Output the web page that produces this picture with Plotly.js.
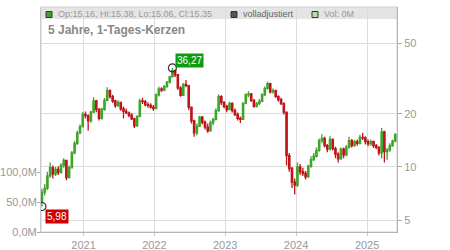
<!DOCTYPE html>
<html>
<head>
<meta charset="utf-8">
<script src="https://cdn.plot.ly/plotly-3.0.1.min.js"></script>
<style>html,body{margin:0;padding:0;background:#fff;}#chart{width:450px;height:250px;}</style>
</head>
<body>
<div id="chart"></div>
<script>
const dates = ['2020-06-01','2020-06-15','2020-06-29','2020-07-13','2020-07-27','2020-08-10','2020-08-24','2020-09-07','2020-09-21','2020-10-05',
'2020-10-19','2020-11-02','2020-11-16','2020-11-30','2020-12-14','2020-12-28','2021-01-11','2021-01-25','2021-02-08','2021-02-22',
'2021-03-08','2021-03-22','2021-04-05','2021-04-19','2021-05-03','2021-05-17','2021-05-31','2021-06-14','2021-06-28','2021-07-12',
'2021-07-26','2021-08-09','2021-08-23','2021-09-06','2021-09-20','2021-10-04','2021-10-18','2021-11-01','2021-11-15','2021-11-29',
'2021-12-13','2021-12-27','2022-01-10','2022-01-24','2022-02-07','2022-02-21','2022-03-07','2022-03-21','2022-04-04','2022-04-18',
'2022-05-02','2022-05-16','2022-05-30','2022-06-13','2022-06-27','2022-07-11','2022-07-25','2022-08-08','2022-08-22','2022-09-05',
'2022-09-19','2022-10-03','2022-10-17','2022-10-31','2022-11-14','2022-11-28','2022-12-12','2022-12-26','2023-01-09','2023-01-23',
'2023-02-06','2023-02-20','2023-03-06','2023-03-20','2023-04-03','2023-04-17','2023-05-01','2023-05-15','2023-05-29','2023-06-12',
'2023-06-26','2023-07-10','2023-07-24','2023-08-07','2023-08-21','2023-09-04','2023-09-18','2023-10-02','2023-10-16','2023-10-30',
'2023-11-13','2023-11-27','2023-12-11','2023-12-25','2024-01-08','2024-01-22','2024-02-05','2024-02-19','2024-03-04','2024-03-18',
'2024-04-01','2024-04-15','2024-04-29','2024-05-13','2024-05-27','2024-06-10','2024-06-24','2024-07-08','2024-07-22','2024-08-05',
'2024-08-19','2024-09-02','2024-09-16','2024-09-30','2024-10-14','2024-10-28','2024-11-11','2024-11-25','2024-12-09','2024-12-23',
'2025-01-06','2025-01-20','2025-02-03','2025-02-17','2025-03-03','2025-03-17','2025-03-31','2025-04-14','2025-04-28','2025-05-12',
'2025-05-26'];
const openP = [6.3,7.2,7.6,8.9,9.9,9.1,9.7,9.3,10.2,10.9, 8.7,9.9,12.0,13.6,15.6,16.9,19.8,19.5,18.2,20.4,
23.6,21.2,18.8,21.2,23.8,27.0,25.0,23.6,22.2,23.2, 21.3,20.6,20.2,19.6,18.7,17.1,19.3,23.6,23.4,22.5,
22.3,21.8,21.4,25.6,27.6,27.2,28.5,30.2,32.3,35.0, 33.2,28.0,25.4,29.3,28.8,21.8,18.2,15.6,17.0,19.1,
17.9,16.8,16.0,17.8,18.6,20.8,25.0,23.1,22.0,21.1, 22.9,20.8,19.8,18.8,18.6,22.9,25.6,25.9,23.8,22.0,
22.8,23.5,25.6,27.8,29.6,26.6,27.0,25.0,24.0,22.8, 20.4,11.6,9.8,8.2,7.9,10.0,9.4,9.2,8.8,10.1,
11.0,11.5,12.4,14.1,14.5,13.2,12.6,14.3,12.7,11.8, 11.1,12.6,11.7,12.9,14.1,13.2,13.9,13.6,14.7,14.6,
13.9,13.5,13.9,13.2,12.9,12.0,15.8,12.2,12.5,13.2, 14.0];
const highP = [7.5,8.0,9.4,10.6,10.2,10.0,10.1,10.5,11.2,10.9, 10.2,12.3,14.0,16.0,17.4,20.5,20.6,19.8,20.8,24.8,
24.0,21.5,21.6,24.5,28.2,27.5,25.6,24.0,23.8,23.4, 22.0,21.4,20.6,20.1,19.0,19.6,24.3,24.6,23.9,23.2,
22.9,22.4,26.0,28.4,28.2,29.0,30.6,32.8,36.27,35.6, 33.5,28.6,29.8,31.0,29.0,22.0,18.5,17.6,19.5,19.4,
18.3,17.6,18.3,19.0,21.5,25.8,25.4,23.6,22.5,23.4, 23.2,21.4,20.3,19.3,23.2,26.0,26.8,26.2,24.2,23.3,
24.2,26.1,28.5,30.3,29.9,27.8,27.3,25.4,24.6,23.2, 20.6,12.0,10.0,8.6,10.6,10.4,9.9,9.5,10.3,11.5,
12.0,12.9,14.5,15.3,14.8,13.5,14.9,14.5,13.0,12.1, 12.9,12.9,13.3,14.8,14.4,14.2,14.3,15.2,15.6,14.9,
14.3,14.3,14.1,13.5,13.1,16.6,16.0,12.8,13.6,14.3, 15.38];
const lowP = [5.98,6.9,7.4,8.7,8.6,8.9,9.0,9.2,9.9,8.4, 8.6,9.8,11.8,13.3,15.3,16.7,18.8,16.0,17.8,20.2,
20.4,18.3,18.5,20.8,23.5,24.4,23.0,21.6,21.8,20.8, 18.8,19.9,19.1,18.4,16.6,16.9,19.1,22.7,22.0,21.6,
21.4,20.8,21.2,25.0,26.5,26.8,28.0,29.6,32.0,32.2, 27.2,24.9,25.2,28.2,21.0,17.6,14.8,15.1,16.8,17.4,
16.3,15.6,15.8,17.2,18.3,20.5,22.4,21.4,20.4,20.9, 20.3,19.4,18.3,17.7,18.4,22.6,24.8,23.3,21.6,21.7,
22.4,23.2,25.2,27.4,26.0,26.0,24.6,23.4,22.4,19.8, 10.2,9.4,7.6,7.0,7.7,9.0,8.9,8.5,8.7,9.9,
10.8,11.3,12.2,13.6,12.9,12.1,12.4,12.4,11.2,10.6, 11.0,11.2,11.5,12.7,12.9,13.0,13.2,13.4,14.2,13.4,
13.1,13.2,12.8,12.6,11.6,11.2,10.6,11.0,12.2,13.0, 13.8];
const closeP = [7.2,7.6,8.9,9.9,9.1,9.7,9.3,10.2,10.9,8.7, 9.9,12.0,13.6,15.6,16.9,19.8,19.5,18.2,20.4,23.6,
21.2,18.8,21.2,23.8,27.0,25.0,23.6,22.2,23.2,21.3, 20.6,20.2,19.6,18.7,17.1,19.3,23.6,23.4,22.5,22.3,
21.8,21.4,25.6,27.6,27.2,28.5,30.2,32.3,35.0,33.2, 28.0,25.4,29.3,28.8,21.8,18.2,15.6,17.0,19.1,17.9,
16.8,16.0,17.8,18.6,20.8,25.0,23.1,22.0,21.1,22.9, 20.8,19.8,18.8,18.6,22.9,25.6,25.9,23.8,22.0,22.8,
23.5,25.6,27.8,29.6,26.6,27.0,25.0,24.0,22.8,20.4, 11.6,9.8,8.2,7.9,10.0,9.4,9.2,8.8,10.1,11.0,
11.5,12.4,14.1,14.5,13.2,12.6,14.3,12.7,11.8,11.1, 12.6,11.7,12.9,14.1,13.2,13.9,13.6,14.7,14.6,13.9,
13.5,13.9,13.2,12.9,12.0,15.8,12.2,12.5,13.2,14.0, 15.35];
const volumeDates = ['2025-05-26'];
const volume = [0];
const lowPoint = {date: '2020-06-01', value: 5.98, label: '5,98'};
const highPoint = {date: '2022-04-04', value: 36.27, label: '36,27'};
const priceTicks = [5, 10, 20, 50];
const priceTickText = ['5', '10', '20', '50'];
const volTicks = [0, 50e6, 100e6];
const volTickText = ['0,0M', '50,0M', '100,0M'];
const yearTicks = ['2021-01-01','2022-01-01','2023-01-01','2024-01-01','2025-01-01'];
const yearTickText = ['2021','2022','2023','2024','2025'];
const legendTexts = ['Op:15.16, Hi:15.38, Lo:15.06, Cl:15.35', 'volladjustiert', 'Vol: 0M'];
const titleText = '5 Jahre, 1-Tages-Kerzen';

const FONT = 'Liberation Sans, Arial, sans-serif';
const W = 356, H = 225;
const px = v => v / W;
const py = v => 1 - v / H;

const traces = [
  {type: 'bar', x: volumeDates, y: volume, yaxis: 'y2', marker: {color: '#b5e0a5'}, hoverinfo: 'skip', showlegend: false},
  {type: 'candlestick', x: dates, open: openP, high: highP, low: lowP, close: closeP,
   increasing: {line: {color: '#3fa52a', width: 1.3}, fillcolor: '#3fa52a'},
   decreasing: {line: {color: '#c0141a', width: 1.3}, fillcolor: '#c0141a'},
   whiskerwidth: 0, hoverinfo: 'skip', showlegend: false},
  {type: 'scatter', mode: 'markers', x: [lowPoint.date, highPoint.date], y: [lowPoint.value, highPoint.value],
   marker: {symbol: 'circle-open', size: 8, color: '#333', line: {width: 1.2}}, hoverinfo: 'skip', showlegend: false}
];

const shapes = [
  {type: 'rect', xref: 'paper', yref: 'paper', x0: 0, x1: 1, y0: py(12), y1: 1, fillcolor: '#e4e4e4', line: {width: 0}, layer: 'below'},
  {type: 'rect', xref: 'paper', yref: 'paper', x0: px(5), x1: px(11), y0: py(10.5), y1: py(4.5), fillcolor: '#3fa52a', line: {color: '#333', width: 1}, layer: 'above'},
  {type: 'rect', xref: 'paper', yref: 'paper', x0: px(190), x1: px(196), y0: py(10.5), y1: py(4.5), fillcolor: '#555', line: {color: '#333', width: 1}, layer: 'above'},
  {type: 'rect', xref: 'paper', yref: 'paper', x0: px(271), x1: px(277), y0: py(10.5), y1: py(4.5), fillcolor: '#b5e0a5', line: {color: '#333', width: 1}, layer: 'above'},
  {type: 'rect', xref: 'paper', yref: 'paper', x0: 0, x1: 1, y0: 0, y1: 1, line: {color: '#d0d0d0', width: 1}, layer: 'below'}
];

const annotations = [
  {xref: 'paper', yref: 'paper', x: px(15), y: py(7.5), xanchor: 'left', yanchor: 'middle', text: legendTexts[0], showarrow: false, font: {family: FONT, size: 9, color: '#999'}},
  {xref: 'paper', yref: 'paper', x: px(200), y: py(7.5), xanchor: 'left', yanchor: 'middle', text: legendTexts[1], showarrow: false, font: {family: FONT, size: 9, color: '#666'}},
  {xref: 'paper', yref: 'paper', x: px(281), y: py(7.5), xanchor: 'left', yanchor: 'middle', text: legendTexts[2], showarrow: false, font: {family: FONT, size: 9, color: '#999'}},
  {xref: 'paper', yref: 'paper', x: px(5), y: py(23), xanchor: 'left', yanchor: 'middle', text: '<b>' + titleText + '</b>', showarrow: false, font: {family: FONT, size: 12, color: '#888'}},
  {xref: 'x', yref: 'y', x: lowPoint.date, y: Math.log10(lowPoint.value), xanchor: 'left', yanchor: 'middle', xshift: 3, yshift: -10,
   text: lowPoint.label, showarrow: false, bgcolor: '#cc0000', borderpad: 1, font: {family: FONT, size: 10, color: '#fff'}},
  {xref: 'x', yref: 'y', x: highPoint.date, y: Math.log10(highPoint.value), xanchor: 'left', yanchor: 'middle', xshift: 3, yshift: 7.5,
   text: highPoint.label, showarrow: false, bgcolor: '#109a10', borderpad: 1, font: {family: FONT, size: 10, color: '#fff'}}
];

const layout = {
  width: 450, height: 250,
  margin: {l: 41, r: 53, t: 7, b: 18, pad: 0},
  paper_bgcolor: '#fff', plot_bgcolor: '#fff',
  font: {family: FONT, size: 11, color: '#999'},
  showlegend: false,
  bargap: 0.5,
  xaxis: {type: 'date', range: ['2020-05-27', '2025-06-04'], tickvals: yearTicks, ticktext: yearTickText,
    showgrid: true, gridcolor: '#dcdcdc', gridwidth: 1, ticks: 'outside', ticklen: 3, tickcolor: '#ccc',
    showline: true, linecolor: '#b4b4b4', linewidth: 1, rangeslider: {visible: false}, fixedrange: true,
    tickfont: {family: FONT, size: 11, color: '#999'}},
  yaxis: {type: 'log', side: 'right', range: [Math.log10(4.29), Math.log10(80.2)], tickvals: priceTicks, ticktext: priceTickText,
    showgrid: true, gridcolor: '#dcdcdc', gridwidth: 1, ticks: 'outside', ticklen: 4, tickcolor: '#aaa',
    showline: true, linecolor: '#b4b4b4', linewidth: 1, zeroline: false, fixedrange: true,
    tickfont: {family: FONT, size: 11, color: '#999'}},
  yaxis2: {overlaying: 'y', side: 'left', anchor: 'x', range: [0, 375e6], tickvals: volTicks, ticktext: volTickText,
    showgrid: false, zeroline: false, ticks: 'outside', ticklen: 3, tickcolor: '#aaa', ticklabelstandoff: -2,
    showline: true, linecolor: '#c8c8c8', linewidth: 1, fixedrange: true,
    tickfont: {family: FONT, size: 11, color: '#999'}},
  shapes: shapes,
  annotations: annotations
};

Plotly.newPlot('chart', traces, layout, {displayModeBar: false, staticPlot: true});
</script>
</body>
</html>
